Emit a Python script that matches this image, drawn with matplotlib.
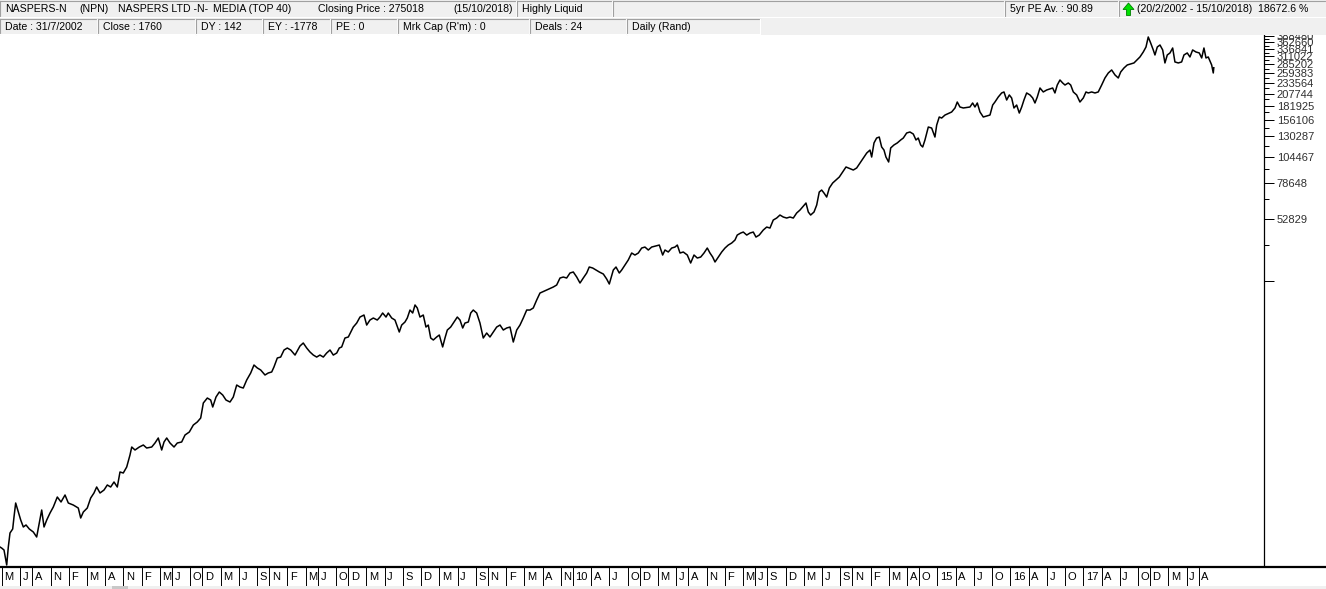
import matplotlib
matplotlib.use("Agg")
import matplotlib.pyplot as plt
import matplotlib.transforms as mtransforms
from matplotlib.patches import Rectangle, Polygon
from matplotlib.lines import Line2D
from matplotlib.ticker import NullFormatter


### Data (decimal year, close in Rand)
dates = [
    2002.140, 2002.163, 2002.195, 2002.232, 2002.254, 2002.277, 2002.314, 2002.332, 2002.355, 2002.391,
    2002.424, 2002.460, 2002.497, 2002.542, 2002.597, 2002.643, 2002.679, 2002.712, 2002.744, 2002.781,
    2002.826, 2002.871, 2002.926, 2002.977, 2003.032, 2003.077, 2003.145, 2003.214, 2003.247, 2003.283,
    2003.337, 2003.384, 2003.429, 2003.466, 2003.512, 2003.567, 2003.612, 2003.658, 2003.704, 2003.749,
    2003.786, 2003.831, 2003.878, 2003.923, 2003.947, 2003.992, 2004.051, 2004.106, 2004.152, 2004.221,
    2004.266, 2004.311, 2004.358, 2004.390, 2004.427, 2004.472, 2004.527, 2004.572, 2004.632, 2004.678,
    2004.737, 2004.792, 2004.846, 2004.893, 2004.929, 2004.984, 2005.030, 2005.058, 2005.103, 2005.148,
    2005.195, 2005.240, 2005.295, 2005.340, 2005.387, 2005.432, 2005.477, 2005.524, 2005.579, 2005.624,
    2005.669, 2005.716, 2005.775, 2005.820, 2005.867, 2005.898, 2005.944, 2005.990, 2006.036, 2006.081,
    2006.128, 2006.187, 2006.255, 2006.300, 2006.347, 2006.392, 2006.438, 2006.484, 2006.529, 2006.575,
    2006.621, 2006.667, 2006.712, 2006.759, 2006.794, 2006.827, 2006.872, 2006.918, 2006.986, 2007.033,
    2007.078, 2007.133, 2007.170, 2007.215, 2007.261, 2007.315, 2007.352, 2007.389, 2007.435, 2007.466,
    2007.513, 2007.558, 2007.617, 2007.650, 2007.695, 2007.727, 2007.764, 2007.801, 2007.833, 2007.864,
    2007.901, 2007.946, 2007.983, 2008.015, 2008.048, 2008.084, 2008.130, 2008.166, 2008.212, 2008.244,
    2008.276, 2008.322, 2008.368, 2008.413, 2008.450, 2008.487, 2008.518, 2008.564, 2008.597, 2008.632,
    2008.679, 2008.724, 2008.769, 2008.816, 2008.861, 2008.907, 2008.953, 2008.999, 2009.044, 2009.090,
    2009.136, 2009.181, 2009.228, 2009.273, 2009.318, 2009.365, 2009.410, 2009.455, 2009.502, 2009.547,
    2009.639, 2009.730, 2009.776, 2009.822, 2009.867, 2009.913, 2009.959, 2010.004, 2010.051, 2010.096,
    2010.141, 2010.188, 2010.223, 2010.270, 2010.315, 2010.361, 2010.416, 2010.462, 2010.498, 2010.553,
    2010.590, 2010.635, 2010.668, 2010.713, 2010.758, 2010.805, 2010.850, 2010.896, 2010.942, 2010.987,
    2011.033, 2011.079, 2011.184, 2011.230, 2011.262, 2011.307, 2011.354, 2011.399, 2011.431, 2011.468,
    2011.513, 2011.568, 2011.614, 2011.660, 2011.705, 2011.752, 2011.797, 2011.842, 2011.879, 2011.916,
    2011.948, 2011.993, 2012.040, 2012.085, 2012.130, 2012.177, 2012.222, 2012.253, 2012.300, 2012.336,
    2012.383, 2012.428, 2012.473, 2012.510, 2012.555, 2012.610, 2012.657, 2012.702, 2012.747, 2012.794,
    2012.839, 2012.885, 2012.931, 2012.976, 2013.022, 2013.068, 2013.114, 2013.196, 2013.228, 2013.260,
    2013.306, 2013.343, 2013.378, 2013.411, 2013.443, 2013.480, 2013.516, 2013.562, 2013.607, 2013.653,
    2013.699, 2013.745, 2013.845, 2013.891, 2013.937, 2013.982, 2014.029, 2014.074, 2014.097, 2014.129,
    2014.165, 2014.201, 2014.234, 2014.266, 2014.293, 2014.330, 2014.358, 2014.403, 2014.448, 2014.495,
    2014.531, 2014.577, 2014.622, 2014.668, 2014.705, 2014.736, 2014.769, 2014.797, 2014.828, 2014.874,
    2014.920, 2014.965, 2014.989, 2015.024, 2015.057, 2015.103, 2015.194, 2015.240, 2015.271, 2015.308,
    2015.354, 2015.445, 2015.482, 2015.514, 2015.546, 2015.583, 2015.628, 2015.720, 2015.757, 2015.788,
    2015.834, 2015.880, 2015.912, 2015.949, 2015.985, 2016.017, 2016.049, 2016.086, 2016.122, 2016.155,
    2016.186, 2016.223, 2016.269, 2016.306, 2016.337, 2016.369, 2016.406, 2016.451, 2016.498, 2016.580,
    2016.611, 2016.643, 2016.680, 2016.717, 2016.749, 2016.794, 2016.827, 2016.863, 2016.909, 2016.954,
    2017.000, 2017.037, 2017.068, 2017.115, 2017.160, 2017.205, 2017.252, 2017.297, 2017.343, 2017.389,
    2017.435, 2017.480, 2017.513, 2017.558, 2017.603, 2017.695, 2017.777, 2017.823, 2017.860, 2017.891,
    2017.924, 2017.960, 2017.983, 2018.015, 2018.052, 2018.089, 2018.120, 2018.152, 2018.189, 2018.226,
    2018.257, 2018.303, 2018.349, 2018.381, 2018.426, 2018.463, 2018.500, 2018.545, 2018.591, 2018.624,
    2018.655, 2018.683, 2018.714, 2018.761, 2018.783, 2018.790,
]
close = [
    1495, 1478, 1447, 1229, 1495, 1741, 1819, 2072, 2413, 2188,
    2006, 1859, 1900, 1819, 1760, 1667, 1942, 2236, 1859, 2006,
    2164, 2310, 2576, 2440, 2633, 2413, 2361, 2285, 2050, 2188,
    2285, 2548, 2691, 2872, 2691, 2780, 2936, 2872, 3033, 2872,
    3382, 3345, 3570, 4068, 4438, 4296, 4438, 4536, 4390, 4438,
    4636, 4895, 4296, 4687, 4895, 4636, 4438, 4636, 4687, 5057,
    5225, 5638, 5826, 6084, 7163, 7563, 7400, 6857, 7645, 8074,
    7814, 7400, 7241, 7645, 8711, 8524, 8432, 9199, 9931, 10830,
    10490, 10260, 9716, 9931, 10040, 10600, 11690, 11810, 12750, 13030,
    12750, 12070, 13320, 13760, 13030, 12480, 12070, 11810, 12070, 11810,
    12340, 12750, 12070, 12340, 13030, 13180, 14530, 14690, 16370, 17100,
    18250, 18660, 16730, 17670, 18060, 17670, 18250, 19070, 18250, 19070,
    18060, 17670, 15510, 16730, 17290, 18060, 19700, 19070, 20810, 20140,
    18250, 18660, 16370, 16730, 14530, 14220, 14690, 15010, 13180, 14530,
    15850, 16370, 17290, 18250, 17670, 16200, 17100, 17290, 19070, 19700,
    19070, 17100, 14530, 15340, 14690, 15510, 16370, 16730, 15850, 16200,
    16370, 13910, 15850, 16730, 18060, 19700, 19700, 20140, 21970, 23700,
    24490, 25310, 25860, 27910, 28210, 27910, 29470, 29800, 28210, 26430,
    27910, 29470, 31460, 31120, 30450, 29800, 29150, 27610, 26150, 30450,
    31460, 29470, 30450, 32150, 33950, 36630, 35840, 36630, 38670, 39090,
    37850, 39090, 39950, 35840, 37850, 37040, 38670, 39090, 39950, 36630,
    37040, 35840, 32860, 35840, 34690, 35070, 36630, 38670, 36630, 35070,
    33220, 35070, 37040, 38670, 39950, 40840, 42190, 44540, 45520, 46020,
    44540, 45520, 46020, 43580, 44540, 47030, 48590, 48070, 52440, 53600,
    55380, 54190, 53600, 54190, 53600, 56600, 58480, 63110, 57220, 55380,
    57220, 61740, 71130, 72690, 70360, 67350, 74300, 78460, 81060, 83750,
    88440, 93400, 90380, 92390, 97560, 102900, 108700, 112300, 104100, 121300,
    128000, 129400, 116100, 112300, 104100, 98630, 114900, 118700, 121300, 125300,
    128000, 135200, 136700, 133700, 125300, 128000, 118700, 116100, 125300, 144300,
    142700, 129400, 147400, 160900, 159100, 164400, 169900, 177500, 189400, 179400,
    177500, 179400, 187400, 179400, 187400, 169900, 160900, 164400, 183300, 189400,
    200100, 209000, 211300, 193600, 204500, 197900, 177500, 183300, 168000, 179400,
    193600, 209000, 204500, 197900, 187400, 200100, 220600, 211300, 215900, 220600,
    209000, 227900, 240700, 233000, 227900, 233000, 227900, 211300, 204500, 189400,
    197900, 211300, 209000, 211300, 209000, 211300, 227900, 246000, 259800, 268400,
    254200, 246000, 262600, 274300, 283400, 289700, 309200, 326500, 344600, 384300,
    360000, 333700, 316000, 344600, 352200, 333700, 289700, 316000, 323000, 340900,
    292900, 289700, 292900, 316000, 323000, 309200, 333700, 326500, 323000, 305900,
    340900, 305900, 309200, 283400, 259800, 275018,
]

### Right axis ticks (linear steps on a log scale, as in the original)
price_ticks = [388480, 362660, 336841, 311022, 285202, 259383, 233564, 207744,
               181925, 156106, 130287, 104467, 78648, 52829, 27010]
price_labels = ["388480", "362660", "336841", "311022", "285202", "259383", "233564", "207744",
                "181925", "156106", "130287", "104467", "78648", "52829", ""]
price_minor = [375570, 349751, 323931, 298112, 272293, 246473, 220654, 194835,
               169015, 143196, 117377, 91558, 65738, 39919]

### Month labels along the bottom strip: (year, month, text)
month_labels = [
    (2002, 3, "M"), (2002, 6, "J"), (2002, 8, "A"), (2002, 11, "N"),
    (2003, 2, "F"), (2003, 5, "M"), (2003, 8, "A"), (2003, 11, "N"),
    (2004, 2, "F"), (2004, 5, "M"), (2004, 7, "J"), (2004, 10, "O"), (2004, 12, "D"),
    (2005, 3, "M"), (2005, 6, "J"), (2005, 9, "S"), (2005, 11, "N"),
    (2006, 2, "F"), (2006, 5, "M"), (2006, 7, "J"), (2006, 10, "O"), (2006, 12, "D"),
    (2007, 3, "M"), (2007, 6, "J"), (2007, 9, "S"), (2007, 12, "D"),
    (2008, 3, "M"), (2008, 6, "J"), (2008, 9, "S"), (2008, 11, "N"),
    (2009, 2, "F"), (2009, 5, "M"), (2009, 8, "A"), (2009, 11, "N"),
    (2010, 1, "10"), (2010, 4, "A"), (2010, 7, "J"), (2010, 10, "O"), (2010, 12, "D"),
    (2011, 3, "M"), (2011, 6, "J"), (2011, 8, "A"), (2011, 11, "N"),
    (2012, 2, "F"), (2012, 5, "M"), (2012, 7, "J"), (2012, 9, "S"), (2012, 12, "D"),
    (2013, 3, "M"), (2013, 6, "J"), (2013, 9, "S"), (2013, 11, "N"),
    (2014, 2, "F"), (2014, 5, "M"), (2014, 8, "A"), (2014, 10, "O"),
    (2015, 1, "15"), (2015, 4, "A"), (2015, 7, "J"), (2015, 10, "O"),
    (2016, 1, "16"), (2016, 4, "A"), (2016, 7, "J"), (2016, 10, "O"),
    (2017, 1, "17"), (2017, 4, "A"), (2017, 7, "J"), (2017, 10, "O"), (2017, 12, "D"),
    (2018, 3, "M"), (2018, 6, "J"), (2018, 8, "A"),
]

### Header text
header_row1 = [
    (5, "NASPERS-N"), (79, "(NPN)"), (118, "NASPERS LTD -N-"), (213, "MEDIA (TOP 40)"),
    (318, "Closing Price : 275018"), (453, "(15/10/2018)"), (522, "Highly Liquid"),
    (1010, "5yr PE Av. : 90.89"), (1137, "(20/2/2002 - 15/10/2018)  18672.6 %"),
]
header_row2 = [
    (5, "Date : 31/7/2002"), (103, "Close : 1760"), (201, "DY : 142"), (268, "EY : -1778"),
    (336, "PE : 0"), (403, "Mrk Cap (R'm) : 0"), (535, "Deals : 24"), (632, "Daily (Rand)"),
]


W, H = 1326, 589
T0 = 2002.14          # left edge of the chart (decimal year)
PX_PER_YEAR = 72.9


def fx(x):
    return x / W


def fy(y):
    return 1 - y / H


def panel(fig, x0, x1, y0, y1):
    # sunken windows panel: dark top/left, white bottom/right
    fig.add_artist(Line2D([fx(x0), fx(x1)], [fy(y0), fy(y0)], color="#a0a0a0", lw=0.8))
    fig.add_artist(Line2D([fx(x0), fx(x0)], [fy(y0), fy(y1)], color="#a0a0a0", lw=0.8))
    fig.add_artist(Line2D([fx(x0), fx(x1)], [fy(y1), fy(y1)], color="white", lw=0.8))
    fig.add_artist(Line2D([fx(x1), fx(x1)], [fy(y0), fy(y1)], color="white", lw=0.8))


def main():
    plt.rcParams["font.family"] = ["Liberation Sans", "DejaVu Sans"]
    fig = plt.figure(figsize=(W / 100, H / 100), dpi=100)
    fig.patch.set_facecolor("white")

    ### Step 1. header bars
    fig.add_artist(Rectangle((0, fy(35)), 1, 35 / H, transform=fig.transFigure,
                             facecolor="#f0f0f0", edgecolor="none"))
    for x0, x1 in [(0, 516), (517, 612), (613, 1004), (1005, 1118), (1119, 1326)]:
        panel(fig, x0, x1, 1, 17)
    for x0, x1 in [(0, 97), (98, 195), (196, 262), (263, 330), (331, 397),
                   (398, 529), (530, 626), (627, 760)]:
        panel(fig, x0, x1, 19, 34)
    for x, s in header_row1:
        fig.text(fx(x), fy(9.5), s, fontsize=7.6, va="center", ha="left", color="black")
    for x, s in header_row2:
        fig.text(fx(x), fy(27), s, fontsize=7.6, va="center", ha="left", color="black")
    arrow = [(1123, 9.5), (1128.5, 3), (1134, 9.5), (1130.5, 9.5),
             (1130.5, 15.5), (1126.5, 15.5), (1126.5, 9.5)]
    fig.add_artist(Polygon([(fx(a), fy(b)) for a, b in arrow], closed=True,
                           transform=fig.transFigure, facecolor="#00e000",
                           edgecolor="#008000", lw=0.6))

    ### Step 2. price chart (log scale, right axis)
    ax = fig.add_axes([0, fy(566), 1264 / W, (566 - 35) / H])
    ax.plot(dates, close, color="black", lw=1.1)
    ax.set_yscale("log")
    ax.set_xlim(T0, T0 + 1264 / PX_PER_YEAR)
    ax.set_ylim(1216, 392700)
    for side in ["top", "left", "bottom"]:
        ax.spines[side].set_visible(False)
    ax.spines["right"].set_linewidth(0.9)
    ax.set_xticks([])
    ax.yaxis.tick_right()
    ax.set_yticks(price_ticks, labels=price_labels)
    ax.set_yticks(price_minor, minor=True)
    ax.yaxis.set_minor_formatter(NullFormatter())
    ax.tick_params(axis="y", which="major", length=7.2, width=0.72, direction="out",
                   pad=2, labelsize=8, labelcolor="#303030")
    ax.tick_params(axis="y", which="minor", length=3.6, width=0.72, direction="out")

    # thick base line across the whole width
    fig.add_artist(Line2D([0, 1], [fy(566.8), fy(566.8)], color="black", lw=1.6))

    ### Step 3. month strip
    ax2 = fig.add_axes([0, fy(586), 1, (586 - 568) / H])
    ax2.set_xlim(T0, T0 + W / PX_PER_YEAR)
    ax2.set_ylim(0, 1)
    ax2.axis("off")
    offset = mtransforms.offset_copy(ax2.transData, fig=fig, x=2.5, y=0, units="dots")
    for year, month, s in month_labels:
        t = year + (month - 1) / 12
        ax2.plot([t, t], [0, 1], color="black", lw=0.7)
        ax2.text(t, 0.5, s, transform=offset, fontsize=8, va="center", ha="left", color="black")

    fig.add_artist(Rectangle((0, 0), 1, 3 / H, transform=fig.transFigure,
                             facecolor="#f0f0f0", edgecolor="none"))
    fig.add_artist(Rectangle((fx(112), 0), 16 / W, 3 / H, transform=fig.transFigure,
                             facecolor="#c8c8c8", edgecolor="none"))

    fig.savefig("out.png", dpi=100)


if __name__ == "__main__":
    main()
